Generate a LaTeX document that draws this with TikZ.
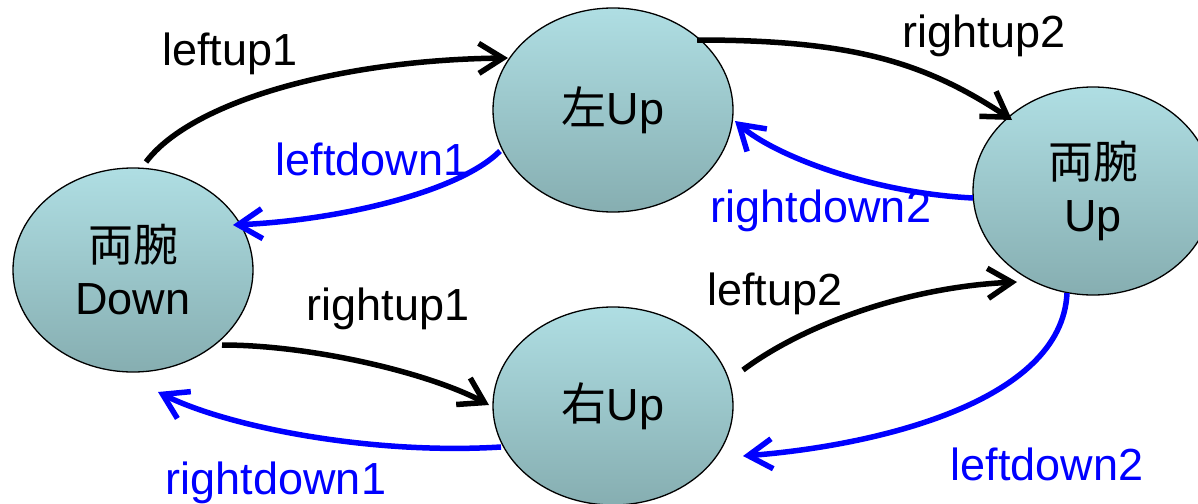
\documentclass[tikz,border=0pt]{standalone}
\usepackage{fontspec}
\setmainfont{Liberation Sans}
\newfontfamily\jp{Noto Sans CJK JP}
\usetikzlibrary{shapes.geometric,arrows.meta,calc}
\definecolor{ftop}{RGB}{175,222,227}
\definecolor{fbot}{RGB}{134,174,177}
\definecolor{lblue}{RGB}{0,0,255}
\tikzset{
  state/.style={ellipse, draw=black, line width=1.3pt, top color=ftop, bottom color=fbot,
    minimum width=240pt, minimum height=204pt, inner sep=0pt, align=center,
    font=\fontsize{45}{53}\selectfont},
  blk/.style={line width=5.5pt, draw=black, -{Straight Barb[length=24pt,width=30pt]}},
  blu/.style={line width=5.5pt, draw=lblue, -{Straight Barb[length=24pt,width=30pt]}},
  lab/.style={font=\fontsize{45}{53}\selectfont, anchor=base, inner sep=0pt},
}
\begin{document}
\begin{tikzpicture}[x=1pt,y=-1pt]
\useasboundingbox (0,0) rectangle (1198,503);
\clip (0,0) rectangle (1198,503);
% states
\node[state] (D) at (133,270) {{\jp 両腕}\\Down};
\node[state] (L) at (613,110) {{\jp 左}Up};
\node[state, minimum height=208pt] (U) at (1093,191) {{\jp 両腕}\\Up};
\node[state, minimum height=198pt] (R) at (613,406) {{\jp 右}Up};
% connectors
\draw[blk] ($(D)+(13,-108)$) .. controls +(45,-60) and +(-170,2) .. ($(L)+(-105,-52)$);
\draw[blu] ($(L)+(-113,41)$) .. controls +(-40,40) and +(110,-5) .. ($(D)+(100,-45)$);
\draw[blk] ($(L)+(84,-70)$) .. controls +(150,0) and +(-90,-60) .. ($(U)+(-81,-71)$);
\draw[blu] ($(U)+(-120,7)$) .. controls +(-100,-5) and +(40,35) .. ($(L)+(122,11)$);
\draw[blk] ($(R)+(130,-36)$) .. controls +(60,-45) and +(-110,5) .. ($(U)+(-76,91)$);
\draw[blu] ($(U)+(-26,102)$) .. controls +(-5,110) and +(130,-10) .. ($(R)+(130,50)$);
\draw[blk] ($(D)+(89,75)$) .. controls +(90,0) and +(-60,-32) .. ($(R)+(-124,-1)$);
\draw[blu] ($(R)+(-112,41)$) .. controls +(-130,8) and +(70,35) .. ($(D)+(25,122)$);
% labels
\node[lab] (l1) at (230,65) {leftup1};
\node[lab, text=lblue] (l2) at (372,175) {leftdown1};
\node[lab] (l3) at (984,48) {rightup2};
\node[lab, text=lblue] (l4) at (821,222) {rightdown2};
\node[lab] (l5) at (775,305) {leftup2};
\node[lab, text=lblue] (l6) at (1047,480) {leftdown2};
\node[lab] (l7) at (388,320) {rightup1};
\node[lab, text=lblue] (l8) at (276,494) {rightdown1};
\end{tikzpicture}
\end{document}
